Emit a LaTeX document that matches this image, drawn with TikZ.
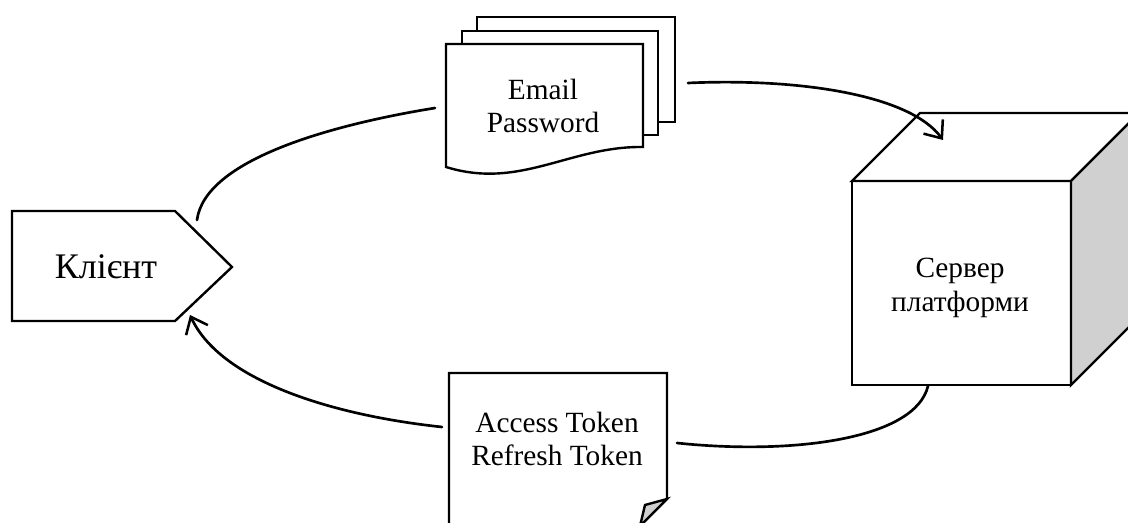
\documentclass[tikz,border=0pt]{standalone}
\usepackage{fontspec}
\setmainfont{Liberation Serif}
\usepackage{tikz}
\usetikzlibrary{arrows.meta}
\definecolor{ink}{HTML}{000000}
\definecolor{side}{HTML}{D0D0D0}
\tikzset{
  base/.style={draw=ink, line width=1.8pt, line join=miter},
  sheet/.style={base, fill=white},
  shade/.style={base, fill=side},
  flow/.style={draw=ink, line width=2pt, line cap=round},
  tip/.style={flow, -{Straight Barb[length=11pt,width=18pt,line width=1.9pt]}},
  lab/.style={text=ink, align=center, inner sep=0pt, font=\fontsize{22}{25}\selectfont},
  labb/.style={text=ink, inner sep=0pt, font=\fontsize{27}{30}\selectfont},
}

\begin{document}
\begin{tikzpicture}[x=0.75pt, y=-0.75pt]
  \useasboundingbox (0,0) rectangle (1128,523);
  \clip (0,0) rectangle (1128,523);
  % client
  \draw[sheet] (12,211) -- (175,211) -- (232,267) -- (175,321) -- (12,321) -- cycle;
  \node[labb] (client) at (106,267) {Клієнт};
  % stack of sheets
  \draw[sheet] (477,17) rectangle (675,122);
  \draw[sheet] (462,31) rectangle (658,135);
  \draw[sheet] (446,167) -- (446,44) -- (643,44) -- (643,147)
    .. controls (570,146) and (520,190) .. cycle;
  \node[lab] (creds) at (543,106) {Email\\Password};
  % single sheet, folded corner
  \draw[sheet] (449,540) -- (449,373) -- (667,373) -- (667,499) -- (626,540);
  \draw[shade] (667,499) -- (645,505) -- (640,526) -- cycle;
  \node[lab] (tokens) at (557,439) {Access Token\\Refresh Token};
  % server cube
  \draw[sheet] (852,181) rectangle (1071,385);
  \draw[sheet] (852,181) -- (920,113) -- (1139,113) -- (1071,181) -- cycle;
  \draw[shade] (1071,181) -- (1139,113) -- (1139,317) -- (1071,385) -- cycle;
  \node[lab] (server) at (960,288) {Сервер\\платформи};
  % ends of the connectors
  \coordinate (client-n) at (197,220);
  \coordinate (client-s) at (190,315);
  \coordinate (creds-w) at (435,108);
  \coordinate (creds-e) at (688,83);
  \coordinate (server-n) at (943,140);
  \coordinate (server-s) at (928,386);
  \coordinate (tokens-e) at (677,443);
  \coordinate (tokens-w) at (442,427);
  \draw[flow] (client-n) .. controls (205,160) and (330,125) .. (creds-w);
  \draw[tip] (creds-e) .. controls (800,78) and (910,95) .. (server-n);
  \draw[flow] (server-s) .. controls (915,440) and (790,455) .. (tokens-e);
  \draw[tip] (tokens-w) .. controls (330,415) and (220,380) .. (client-s);
\end{tikzpicture}
\end{document}
